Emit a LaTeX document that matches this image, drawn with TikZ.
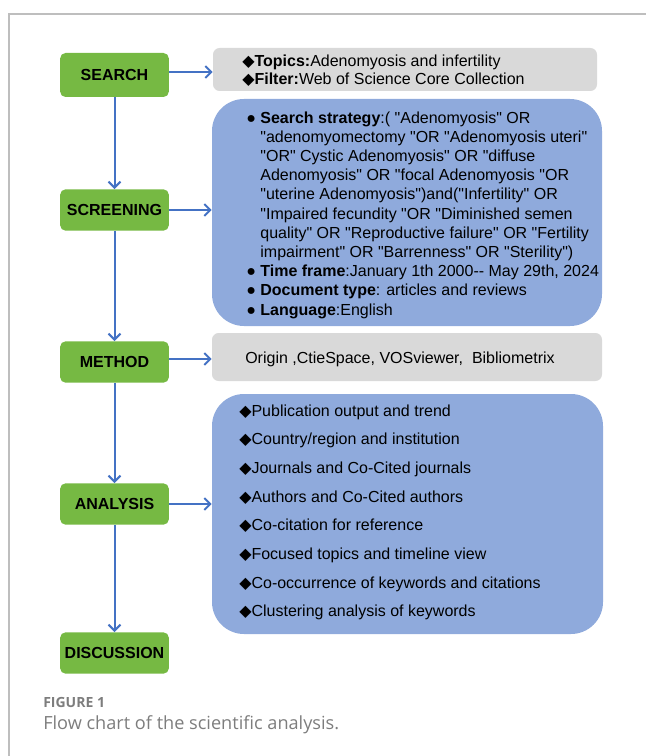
\documentclass[tikz,border=0pt]{standalone}
\usepackage{fontspec}
\setmainfont{Liberation Sans}[Ligatures=TeXOff]
\newfontfamily\symfont{DejaVu Sans}
\newfontfamily\capfont{Open Sans}
\usetikzlibrary{arrows.meta}
\definecolor{stepgreen}{RGB}{118,185,67}
\definecolor{panelblue}{RGB}{143,170,220}
\definecolor{panelgray}{RGB}{217,217,217}
\definecolor{flowblue}{RGB}{68,114,196}
\definecolor{framegray}{RGB}{190,190,190}
\definecolor{capgray}{RGB}{125,125,125}
\newcommand{\dia}{{\symfont ◆}}
\newcommand{\blt}{● }
\tikzset{
  stepbox/.style={fill=stepgreen, rounded corners=4pt, inner sep=0pt,
    minimum width=81.5pt, minimum height=31pt,
    font=\bfseries\fontsize{12}{14}\selectfont},
  graypanel/.style={fill=panelgray, rounded corners=5pt, inner sep=0pt},
  bluepanel/.style={fill=panelblue, rounded corners=24pt, inner sep=0pt},
  paneltext/.style={anchor=west, align=left, inner sep=0pt},
  flow/.style={draw=flowblue, line width=1.5pt,
    -{Straight Barb[length=4.5pt,width=9pt,line width=1.5pt]}}
}
\begin{document}
\begin{tikzpicture}[x=0.75pt,y=-0.75pt]
  \useasboundingbox (0,0) rectangle (646,756);
  % frame of the figure
  \draw[framegray, line width=1.2pt] (9,756) -- (9,14) -- (646,14);

  % steps
  \node[stepbox, minimum height=33pt] (search) at (114.5,75) {SEARCH};
  \node[stepbox] (screen) at (114.5,210) {SCREENING};
  \node[stepbox] (method) at (114.5,362) {METHOD};
  \node[stepbox] (analysis) at (114.5,504) {ANALYSIS};
  \node[stepbox] (discuss) at (114.5,653) {DISCUSSION};

  % panels
  \node[graypanel, minimum width=288pt, minimum height=32.25pt] (topics) at (405,69.5) {};
  \node[bluepanel, minimum width=292.5pt, minimum height=170.25pt] (strategy) at (407,212.5) {};
  \node[graypanel, minimum width=292.5pt, minimum height=36pt] (tools) at (407,357) {};
  \node[bluepanel, minimum width=293.25pt, minimum height=180pt] (topicsall) at (407.5,514) {};

  % panel texts
  \node[paneltext, font=\fontsize{12}{13.5}\selectfont] (topicstxt) at (242,71)
    {\dia\textbf{Topics:}Adenomyosis and infertility\\
     \dia\textbf{Filter:}Web of Science Core Collection};
  \node[paneltext, font=\fontsize{12}{14.4}\selectfont] (strategytxt) at (246,215)
    {\blt\textbf{Search strategy}:( "Adenomyosis" OR\\
     \phantom{\blt}"adenomyomectomy "OR "Adenomyosis uteri"\\
     \phantom{\blt}"OR" Cystic Adenomyosis" OR "diffuse\\
     \phantom{\blt}Adenomyosis" OR "focal Adenomyosis "OR\\
     \phantom{\blt}"uterine Adenomyosis")and("Infertility" OR\\
     \phantom{\blt}"Impaired fecundity "OR "Diminished semen\\
     \phantom{\blt}quality" OR "Reproductive failure" OR "Fertility\\
     \phantom{\blt}impairment" OR "Barrenness" OR "Sterility")\\
     \blt\textbf{Time frame}:January 1th 2000-- May 29th, 2024\\
     \blt\textbf{Document type}: articles and reviews\\
     \blt\textbf{Language}:English};
  \node[inner sep=0pt, font=\fontsize{12}{14}\selectfont] (toolstxt) at (400,359)
    {Origin ,CtieSpace, VOSviewer,\ \ Bibliometrix};
  \node[paneltext, font=\fontsize{12}{21.5}\selectfont] (topicsalltxt) at (239,512.5)
    {\dia Publication output and trend\\
     \dia Country/region and institution\\
     \dia Journals and Co-Cited journals\\
     \dia Authors and Co-Cited authors\\
     \dia Co-citation for reference\\
     \dia Focused topics and timeline view\\
     \dia Co-occurrence of keywords and citations\\
     \dia Clustering analysis of keywords};

  % connectors
  \draw[flow] (search) -- (screen);
  \draw[flow] (screen) -- (method);
  \draw[flow] (method) -- (analysis);
  \draw[flow] (analysis) -- (discuss);
  \draw[flow] (search.east) ++(0,-3) coordinate (s1) -- (s1 -| topics.west);
  \draw[flow] (screen.east) -- (screen.east -| strategy.west);
  \draw[flow] (method.east) ++(0,-3) coordinate (m1) -- (m1 -| tools.west);
  \draw[flow] (analysis.east) -- (analysis.east -| topicsall.west);

  % caption
  \node[anchor=west, inner sep=0pt, text=capgray,
    font=\capfont\bfseries\fontsize{10.5}{12}\selectfont] (figlabel) at (43,702) {FIGURE 1};
  \node[anchor=west, inner sep=0pt, text=capgray,
    font=\capfont\fontsize{13.6}{16}\selectfont] (figcaption) at (43,725)
    {Flow chart of the scientific analysis.};
\end{tikzpicture}
\end{document}
